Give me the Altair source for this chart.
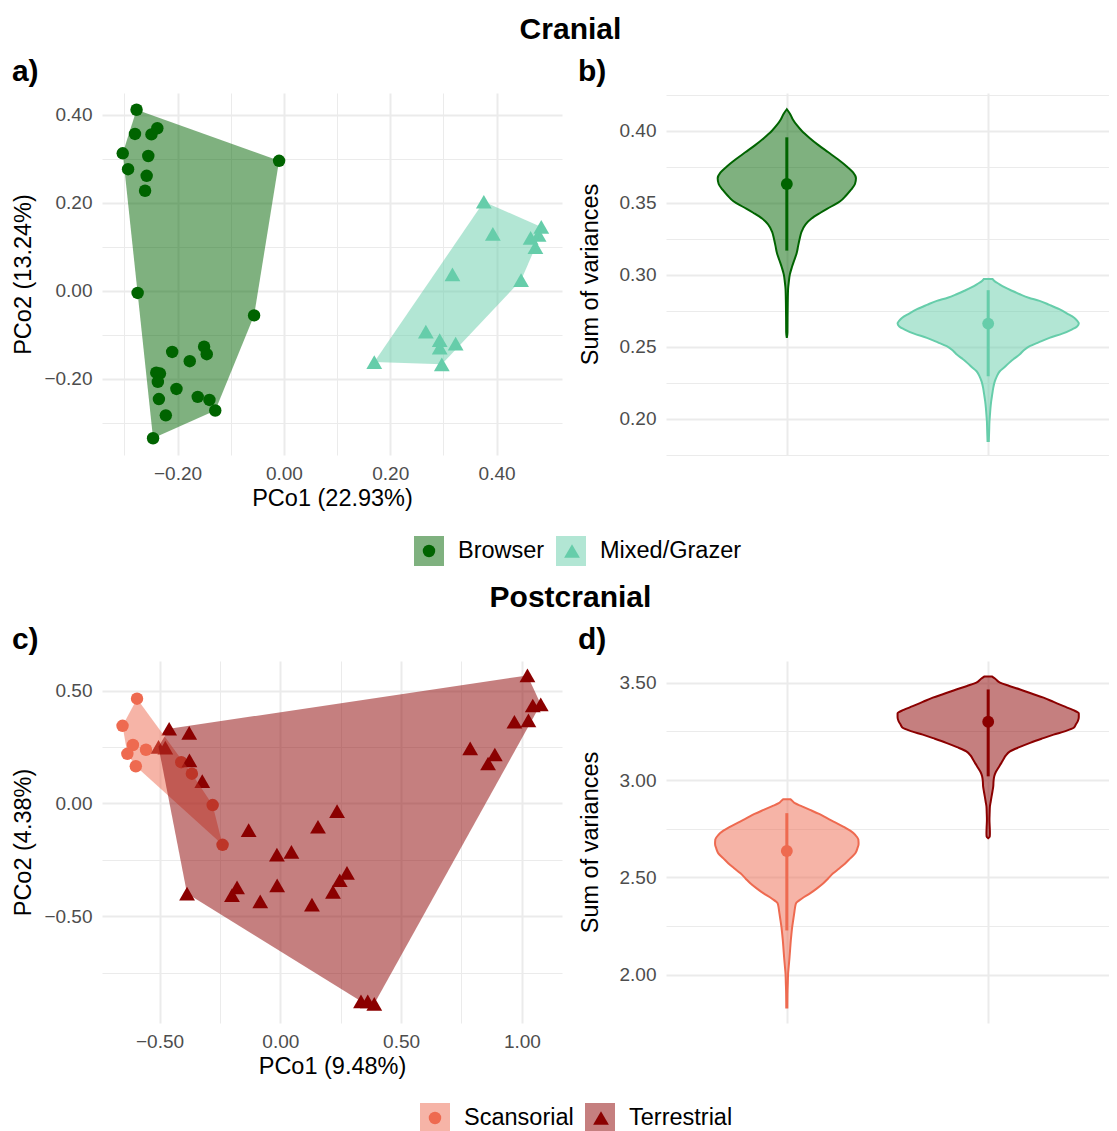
import altair as alt
import pandas as pd

FONT = "Liberation Sans"
GRID = "#EBEBEB"

# ---------------- data ----------------
# Panel a (Cranial PCoA)
cran_groups = ["Browser", "Mixed/Grazer"]
browser_x = [-0.277, -0.280, -0.249, -0.238, -0.303, -0.255, -0.293, -0.258, -0.261, -0.009,
             -0.275, -0.056, -0.210, -0.150, -0.145, -0.177, -0.240, -0.233, -0.237, -0.202,
             -0.235, -0.162, -0.140, -0.129, -0.222, -0.246]
browser_y = [0.411, 0.356, 0.355, 0.369, 0.312, 0.306, 0.276, 0.261, 0.227, 0.295,
             -0.005, -0.056, -0.139, -0.127, -0.144, -0.160, -0.186, -0.188, -0.207, -0.223,
             -0.246, -0.241, -0.248, -0.272, -0.283, -0.335]
mixed_x = [0.376, 0.393, 0.484, 0.464, 0.479, 0.473, 0.317, 0.446, 0.267, 0.293, 0.323, 0.293, 0.170, 0.297]
mixed_y = [0.202, 0.129, 0.145, 0.120, 0.127, 0.099, 0.037, 0.024, -0.093, -0.112, -0.120, -0.129, -0.162, -0.167]

# Panel c (Postcranial PCoA)
post_groups = ["Scansorial", "Terrestrial"]
scans_x = [-0.593, -0.653, -0.610, -0.556, -0.633, -0.598, -0.410, -0.366, -0.280, -0.239]
scans_y = [0.464, 0.344, 0.259, 0.238, 0.220, 0.165, 0.183, 0.132, -0.007, -0.183]
terr_x = [-0.460, -0.377, -0.504, -0.476, -0.376, -0.323, -0.131, -0.386, -0.179, -0.200,
          -0.083, -0.014, -0.013, 0.046, 0.156, 0.235, 0.276, 0.246, 0.218, 0.131,
          0.334, 0.362, 0.389, 0.786, 0.888, 0.860, 0.969, 1.027, 1.023, 1.045, 1.078]
terr_y = [0.331, 0.313, 0.251, 0.247, 0.191, 0.099, -0.118, -0.399, -0.371, -0.406,
          -0.433, -0.226, -0.363, -0.214, -0.103, -0.034, -0.307, -0.340, -0.391, -0.448,
          -0.876, -0.876, -0.887, 0.244, 0.217, 0.177, 0.362, 0.368, 0.567, 0.434, 0.439]

# Panel b violins: value grid and relative density (1 = widest violin in panel)
browser_v = [0.4149, 0.412, 0.408, 0.404, 0.400, 0.395, 0.390, 0.385, 0.380, 0.375, 0.371, 0.367,
             0.363, 0.359, 0.355, 0.351, 0.347, 0.343, 0.339, 0.335, 0.330, 0.325, 0.320, 0.315,
             0.310, 0.305, 0.300, 0.295, 0.290, 0.280, 0.270, 0.260, 0.2561]
browser_d = [0.0, 0.033, 0.065, 0.109, 0.164, 0.251, 0.349, 0.458, 0.567, 0.665, 0.731, 0.763,
             0.752, 0.709, 0.654, 0.589, 0.480, 0.371, 0.273, 0.207, 0.164, 0.142, 0.125, 0.109,
             0.082, 0.055, 0.033, 0.022, 0.014, 0.010, 0.008, 0.007, 0.0]
mixed_v = [0.2969, 0.2958, 0.2935, 0.2911, 0.2888, 0.2864, 0.2840, 0.2818, 0.279, 0.276, 0.273,
           0.2701, 0.268, 0.2662, 0.264, 0.262, 0.259, 0.2561, 0.253, 0.2503, 0.2475, 0.2445,
           0.242, 0.2399, 0.236, 0.2329, 0.229, 0.2259, 0.221, 0.2166, 0.212, 0.2073, 0.203,
           0.198, 0.192, 0.1845]
mixed_d = [0.049, 0.065, 0.120, 0.185, 0.262, 0.349, 0.447, 0.567, 0.676, 0.785, 0.872,
           0.949, 0.981, 1.0, 0.981, 0.927, 0.818, 0.676, 0.556, 0.458, 0.393, 0.346,
           0.294, 0.251, 0.185, 0.128, 0.093, 0.073, 0.055, 0.044, 0.033, 0.025, 0.020,
           0.014, 0.011, 0.007]
cran_mean = [0.363, 0.266]
cran_lo = [0.3167, 0.2294]
cran_hi = [0.3954, 0.2892]

# Panel d violins
scans_v = [2.902, 2.895, 2.881, 2.865, 2.847, 2.826, 2.804, 2.783, 2.761, 2.740, 2.718, 2.695,
           2.672, 2.648, 2.624, 2.598, 2.572, 2.546, 2.521, 2.495, 2.469, 2.444, 2.418, 2.392,
           2.366, 2.340, 2.314, 2.280, 2.245, 2.210, 2.177, 2.134, 2.091, 2.048, 2.005, 1.960,
           1.919, 1.833]
scans_d = [0.039, 0.056, 0.089, 0.167, 0.256, 0.356, 0.444, 0.533, 0.622, 0.700, 0.756, 0.789,
           0.792, 0.778, 0.756, 0.700, 0.644, 0.578, 0.511, 0.456, 0.400, 0.333, 0.256, 0.167,
           0.100, 0.089, 0.081, 0.070, 0.059, 0.051, 0.044, 0.037, 0.030, 0.022, 0.014, 0.011,
           0.008, 0.006]
terr_v = [3.531, 3.520, 3.500, 3.483, 3.465, 3.444, 3.423, 3.401, 3.379, 3.360, 3.342, 3.322,
          3.302, 3.285, 3.268, 3.250, 3.233, 3.212, 3.191, 3.169, 3.147, 3.126, 3.105, 3.083,
          3.062, 3.040, 3.019, 2.993, 2.967, 2.941, 2.915, 2.890, 2.864, 2.830, 2.795, 2.760,
          2.727, 2.710, 2.701]
terr_d = [0.044, 0.078, 0.130, 0.233, 0.352, 0.478, 0.611, 0.722, 0.833, 0.933, 1.0, 1.0,
          0.989, 0.967, 0.944, 0.844, 0.722, 0.589, 0.463, 0.344, 0.241, 0.194, 0.167, 0.139,
          0.111, 0.083, 0.067, 0.059, 0.056, 0.047, 0.037, 0.028, 0.019, 0.016, 0.014, 0.017,
          0.019, 0.017, 0.0]
post_mean = [2.636, 3.299]
post_lo = [2.228, 3.019]
post_hi = [2.830, 3.465]

# tick values
a_x_major = [-0.2, 0.0, 0.2, 0.4]
a_x_minor = [-0.3, -0.1, 0.1, 0.3]
a_y_major = [-0.2, 0.0, 0.2, 0.4]
a_y_minor = [-0.3, -0.1, 0.1, 0.3]
b_y_major = [0.20, 0.25, 0.30, 0.35, 0.40]
b_y_minor = [0.175, 0.225, 0.275, 0.325, 0.375, 0.425]
c_x_major = [-0.5, 0.0, 0.5, 1.0]
c_x_minor = [-0.25, 0.25, 0.75]
c_y_major = [-0.5, 0.0, 0.5]
c_y_minor = [-0.75, -0.25, 0.25]
d_y_major = [2.0, 2.5, 3.0, 3.5]
d_y_minor = [2.25, 2.75, 3.25]

CRAN_COLORS = ["#006400", "#66CDAA"]
POST_COLORS = ["#EE6A50", "#8B0000"]
SHAPES = ["circle", "triangle-up"]
POINT_SIZES = [155, 250]


# ---------------- helpers ----------------
def convex_hull(xs, ys):
    pts = sorted(set(zip(xs, ys)))

    def cross(o, a, b):
        return (a[0] - o[0]) * (b[1] - o[1]) - (a[1] - o[1]) * (b[0] - o[0])

    lower, upper = [], []
    for p in pts:
        while len(lower) >= 2 and cross(lower[-2], lower[-1], p) <= 0:
            lower.pop()
        lower.append(p)
    for p in reversed(pts):
        while len(upper) >= 2 and cross(upper[-2], upper[-1], p) <= 0:
            upper.pop()
        upper.append(p)
    h = lower[:-1] + upper[:-1]
    return h + [h[0]]


def points_frame(groups, xs_list, ys_list):
    rows = []
    for g, xs, ys in zip(groups, xs_list, ys_list):
        for x, y in zip(xs, ys):
            rows.append({"group": g, "x": x, "y": y})
    return pd.DataFrame(rows)


def hull_frame(groups, xs_list, ys_list):
    rows = []
    for g, xs, ys in zip(groups, xs_list, ys_list):
        for i, (x, y) in enumerate(convex_hull(xs, ys)):
            rows.append({"hull_group": g, "x": x, "y": y, "idx": i})
    return pd.DataFrame(rows)


def violin_frame(groups, vals_list, dens_list, half=0.45):
    rows = []
    for i, (g, vals, dens) in enumerate(zip(groups, vals_list, dens_list)):
        pos = i + 1
        for v, d in zip(vals, dens):
            rows.append({"group": g, "val": v, "left": pos - d * half, "right": pos + d * half})
    return pd.DataFrame(rows)


def summary_frame(groups, means, los, his):
    return pd.DataFrame({"group": groups, "pos": [i + 1 for i in range(len(groups))],
                         "mean": means, "lo": los, "hi": his})


def major_axis(title, values, fmt, orient, label_pad, title_pad):
    return alt.Axis(title=title, values=values, format=fmt, orient=orient,
                    domain=False, ticks=False, tickSize=0, grid=True, gridColor=GRID, gridWidth=2,
                    labelFont=FONT, labelFontSize=19, labelColor="#4D4D4D", labelPadding=label_pad,
                    labelOverlap=False, labelFlush=False,
                    titleFont=FONT, titleFontSize=23.5, titleFontWeight="normal", titleColor="black",
                    titlePadding=title_pad)


def minor_axis(values, orient):
    return alt.Axis(values=values, orient=orient, labels=False, ticks=False, domain=False,
                    grid=True, gridColor=GRID, gridWidth=1, title=None, minExtent=0, maxExtent=0)


LEG_FONT_SIZE = 23.5
SQ = 30  # legend key square side


def legend_sq(lx, ly):
    return alt.Legend(title=None, orient="none", legendX=lx, legendY=ly, direction="horizontal",
                      symbolType="square", symbolSize=SQ * SQ, symbolStrokeWidth=0,
                      symbolStrokeColor="transparent", symbolOpacity=0.5,
                      labelFont=FONT, labelFontSize=LEG_FONT_SIZE, labelColor="black", labelLimit=400,
                      labelOffset=14, columnPadding=11, padding=0, zindex=0)


def legend_pt(lx, ly, col_pad):
    # point keys drawn on top of the square keys; no labels of their own
    return alt.Legend(title=None, orient="none", legendX=lx, legendY=ly, direction="horizontal",
                      symbolSize=100, symbolStrokeWidth=0, symbolStrokeColor="transparent",
                      symbolOpacity=1, symbolOffset=0,
                      labelFont=FONT, labelFontSize=SQ, labelExpr="''",
                      labelOffset={"expr": str(-SQ / 2)},
                      columnPadding=col_pad, padding=0, zindex=1)


def panel_title(t):
    return alt.TitleParams(t, anchor="start", frame="bounds", font=FONT, fontSize=30,
                           fontWeight="bold", color="black", offset=6)


def scatter_panel(groups, xs_list, ys_list, colors, xdom, ydom, xmaj, xmin, ymaj, ymin,
                  xtitle, ytitle, ptitle, lx, ly, key_step):
    pts = points_frame(groups, xs_list, ys_list)
    hull = hull_frame(groups, xs_list, ys_list)
    xs = alt.Scale(domain=xdom, nice=False, zero=False)
    ys = alt.Scale(domain=ydom, nice=False, zero=False)
    # circle key right edge sits at ~21 px inside the entry
    leg_pt = legend_pt(lx, ly, key_step - 21)
    points = alt.Chart(pts).mark_point(filled=True, opacity=1).encode(
        x=alt.X("x:Q", scale=xs, axis=major_axis(xtitle, xmaj, ".2f", "bottom", 9, 3)),
        y=alt.Y("y:Q", scale=ys, axis=major_axis(ytitle, ymaj, ".2f", "left", 10, 8)),
        color=alt.Color("group:N", scale=alt.Scale(range=colors), legend=leg_pt),
        shape=alt.Shape("group:N", scale=alt.Scale(range=SHAPES), legend=leg_pt),
        size=alt.Size("group:N", scale=alt.Scale(range=POINT_SIZES), legend=None),
    )
    hulls = alt.Chart(hull).mark_line(opacity=0.5, strokeWidth=0).encode(
        x=alt.X("x:Q", scale=xs, axis=minor_axis(xmin, "top")),
        y=alt.Y("y:Q", scale=ys, axis=minor_axis(ymin, "right")),
        fill=alt.Fill("hull_group:N", scale=alt.Scale(range=colors), legend=legend_sq(lx, ly)),
        order=alt.Order("idx:Q"),
    )
    return alt.layer(points, hulls).resolve_axis(x="independent", y="independent").properties(
        width=460, height=362, title=panel_title(ptitle))


def violin_panel(groups, vals_list, dens_list, means, los, his, colors, ydom, ymaj, ymin, ptitle):
    vio = violin_frame(groups, vals_list, dens_list)
    summ = summary_frame(groups, means, los, his)
    xs = alt.Scale(domain=[0.4, 2.6], nice=False, zero=False)
    ys = alt.Scale(domain=ydom, nice=False, zero=False)
    cat_axis = alt.Axis(values=[1, 2], labels=False, ticks=False, domain=False, grid=True,
                        gridColor=GRID, gridWidth=2, title=None)
    area = alt.Chart(vio).mark_area(orient="horizontal", fillOpacity=0.5, strokeWidth=2,
                                    interpolate="monotone").encode(
        y=alt.Y("val:Q", scale=ys, axis=major_axis("Sum of variances", ymaj, ".2f", "left", 10, 17)),
        x=alt.X("left:Q", scale=xs, axis=cat_axis),
        x2="right:Q",
        fill=alt.Fill("group:N", scale=alt.Scale(range=colors), legend=None),
        stroke=alt.Stroke("group:N", scale=alt.Scale(range=colors), legend=None),
    )
    rule = alt.Chart(summ).mark_rule(strokeWidth=3).encode(
        x=alt.X("pos:Q", scale=xs, axis=None),
        y=alt.Y("lo:Q", scale=ys, axis=minor_axis(ymin, "right")),
        y2="hi:Q",
        stroke=alt.Stroke("group:N", scale=alt.Scale(range=colors), legend=None),
    )
    dot = alt.Chart(summ).mark_circle(size=140, opacity=1).encode(
        x=alt.X("pos:Q", scale=xs, axis=None),
        y=alt.Y("mean:Q", scale=ys, axis=None),
        fill=alt.Fill("group:N", scale=alt.Scale(range=colors), legend=None),
    )
    return alt.layer(area, rule, dot).resolve_axis(x="independent", y="independent").properties(
        width=443, height=362, title=panel_title(ptitle))


def row_title(t):
    return alt.TitleParams(t, anchor="middle", font=FONT, fontSize=30, fontWeight="bold",
                           color="black", offset=12, dx=10)


# ---------------- panels ----------------
pa = scatter_panel(cran_groups, [browser_x, mixed_x], [browser_y, mixed_y], CRAN_COLORS,
                   [-0.342, 0.523], [-0.373, 0.449], a_x_major, a_x_minor, a_y_major, a_y_minor,
                   "PCo1 (22.93%)", "PCo2 (13.24%)", "a)", 312, 443, 142)
pb = violin_panel(cran_groups, [browser_v, mixed_v], [browser_d, mixed_d], cran_mean, cran_lo,
                  cran_hi, CRAN_COLORS, [0.1747, 0.4262], b_y_major, b_y_minor, "b)")
pc = scatter_panel(post_groups, [scans_x, terr_x], [scans_y, terr_y], POST_COLORS,
                   [-0.738, 1.166], [-0.972, 0.631], c_x_major, c_x_minor, c_y_major, c_y_minor,
                   "PCo1 (9.48%)", "PCo2 (4.38%)", "c)", 318, 442, 165)
pd_ = violin_panel(post_groups, [scans_v, terr_v], [scans_d, terr_d], post_mean, post_lo,
                   post_hi, POST_COLORS, [1.753, 3.611], d_y_major, d_y_minor, "d)")

row1 = alt.hconcat(pa, pb, spacing=16).properties(title=row_title("Cranial"))
row2 = alt.hconcat(pc, pd_, spacing=16).properties(title=row_title("Postcranial"))

chart = alt.vconcat(row1, row2, spacing=17).resolve_scale(
    color="independent", fill="independent", shape="independent", stroke="independent",
    size="independent"
).properties(
    padding={"left": 3, "top": 7, "right": 0, "bottom": 0}
).configure_view(stroke=None)

chart.save("out.html", embed_options={"renderer": "svg", "actions": False})
